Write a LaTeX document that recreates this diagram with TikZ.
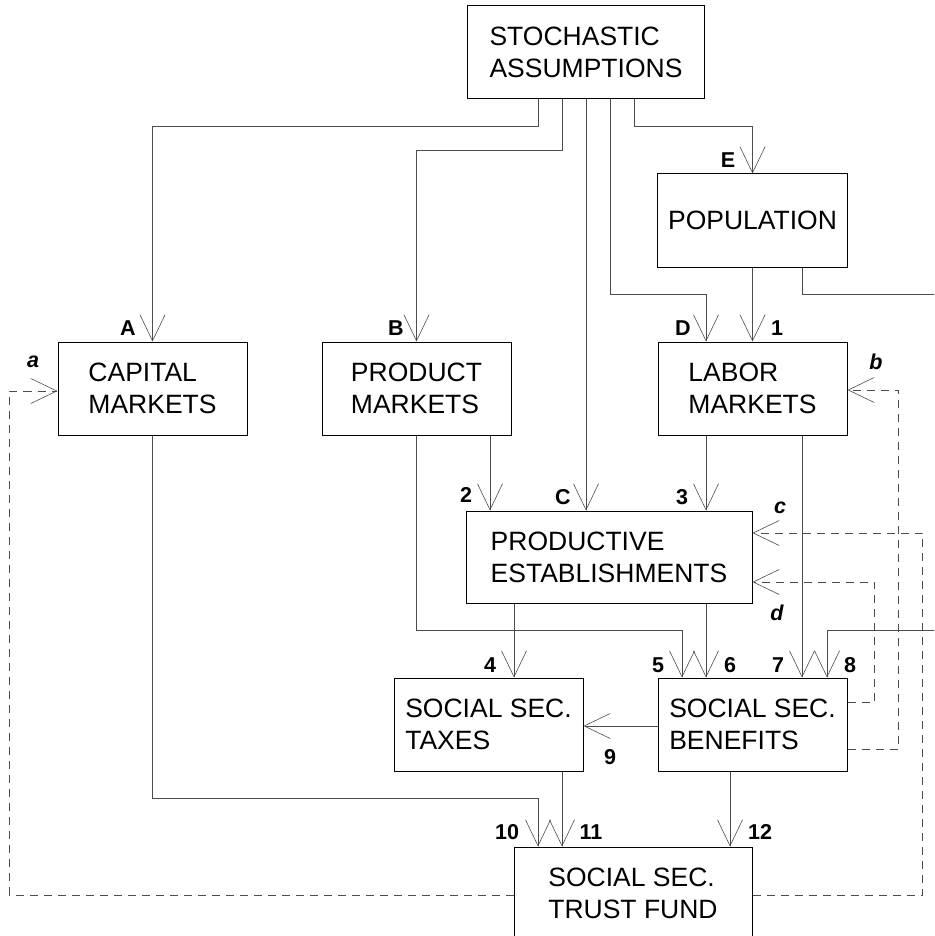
\documentclass[tikz,border=0pt]{standalone}
\usepackage{fontspec}
\setmainfont{Liberation Sans}
\usetikzlibrary{arrows.meta}

\begin{document}
\begin{tikzpicture}[x=1pt,y=-1pt,
  box/.style={draw,line width=1pt,inner sep=0pt,minimum height=93pt,align=left,
    font=\fontsize{26.5}{32}\selectfont},
  flow/.style={line width=0.9pt,black!70,
    -{Straight Barb[length=26pt,width=25pt,line width=0.6pt]}},
  fback/.style={flow,dash pattern=on 8pt off 6pt},
  tag/.style={inner sep=0pt,font=\fontsize{21.5}{24}\selectfont\bfseries},
  itag/.style={inner sep=0pt,font=\fontsize{21.5}{24}\selectfont\bfseries\itshape}]
  \useasboundingbox (0,0) rectangle (934,936);
  \clip (0,0) rectangle (934,936);
  % boxes
  \node[box,minimum width=237pt] (sa) at (586,52.5) {STOCHASTIC\\ASSUMPTIONS};
  \node[box,minimum width=190pt] (pop) at (752.5,220.5) {POPULATION};
  \node[box,minimum width=189pt] (cap) at (152.5,388.5) {CAPITAL\\MARKETS};
  \node[box,minimum width=189pt] (prod) at (416.5,388.5) {PRODUCT\\MARKETS};
  \node[box,minimum width=189pt] (lab) at (752.5,388.5) {LABOR\\MARKETS};
  \node[box,minimum width=286pt,minimum height=92pt] (pe) at (609,557) {PRODUCTIVE\\ESTABLISHMENTS};
  \node[box,minimum width=189pt] (tax) at (488.5,724.5) {SOCIAL SEC.\\TAXES};
  \node[box,minimum width=189pt] (ben) at (752.5,724.5) {SOCIAL SEC.\\BENEFITS};
  \node[box,minimum width=238pt] (tf) at (633,893.5) {SOCIAL SEC.\\TRUST FUND};
  % stochastic inputs
  \draw[flow] ([xshift=-48pt]sa.south) -- ++(0,27) -| (cap.north);
  \draw[flow] ([xshift=-24pt]sa.south) -- ++(0,51) -| (prod.north);
  \draw[flow] (sa.south) -- (sa.south |- pe.north);
  \draw[flow] ([xshift=24pt]sa.south) -- ++(0,195) -| ([xshift=-46.5pt]lab.north);
  \draw[flow] ([xshift=48pt]sa.south) -- ++(0,27) -| (pop.north);
  % flows
  \draw[flow] (pop.south) -- (lab.north);
  \draw[flow] ([xshift=49.5pt]pop.south) -- ++(0,27) -| ++(148,336) -| ([xshift=74.5pt]ben.north);
  \draw[flow] ([xshift=73.5pt]prod.south) -- ([xshift=-119pt]pe.north);
  \draw[flow] ([xshift=-46.5pt]lab.south) -- ([xshift=97pt]pe.north);
  \draw[flow] (prod.south) -- ++(0,195) -| ([xshift=-70.5pt]ben.north);
  \draw[flow] ([xshift=-95pt]pe.south) -- ([xshift=25.5pt]tax.north);
  \draw[flow] ([xshift=97pt]pe.south) -- ([xshift=-46.5pt]ben.north);
  \draw[flow] ([xshift=49.5pt]lab.south) -- ([xshift=49.5pt]ben.north);
  \draw[flow] ([yshift=-1.5pt]ben.west) -- ([yshift=-1.5pt]tax.east);
  \draw[flow] (cap.south) -- ++(0,363) -| ([xshift=-95pt]tf.north);
  \draw[flow] ([xshift=73.5pt]tax.south) -- ([xshift=-71pt]tf.north);
  \draw[flow] ([xshift=-22.5pt]ben.south) -- ([xshift=97pt]tf.north);
  % feedback
  \draw[fback] ([yshift=-1.5pt]tf.west) -- ++(-504,0) |- ([yshift=-2.5pt]cap.west);
  \draw[fback] ([yshift=-1.5pt]tf.east) -- ++(170,0) |- ([yshift=24pt]pe.east);
  \draw[fback] ([yshift=22.5pt]ben.east) -- ++(27,0) |- ([yshift=-25pt]pe.east);
  \draw[fback] ([yshift=-24.5pt]ben.east) -- ++(51,0) |- ([yshift=-1.5pt]lab.east);
  % labels
  \node[tag] (tA) at (128,328) {A};
  \node[tag] (tB) at (396,328) {B};
  \node[tag] (tC) at (563,497) {C};
  \node[tag] (tD) at (683,328) {D};
  \node[tag] (tE) at (728,160) {E};
  \node[tag] (t1) at (777,328) {1};
  \node[tag] (t2) at (466,495) {2};
  \node[tag] (t3) at (682,497) {3};
  \node[tag] (t4) at (490,665) {4};
  \node[tag] (t5) at (658,665) {5};
  \node[tag] (t6) at (730,665) {6};
  \node[tag] (t7) at (778,665) {7};
  \node[tag] (t8) at (850,665) {8};
  \node[tag] (t9) at (610,757) {9};
  \node[tag] (t10) at (507,832) {10};
  \node[tag] (t11) at (591,832) {11};
  \node[tag] (t12) at (760,832) {12};
  \node[itag] (ta) at (33,362) {a};
  \node[itag] (tb) at (876,362) {b};
  \node[itag] (tc) at (780,508) {c};
  \node[itag] (td) at (777,613) {d};
\end{tikzpicture}
\end{document}
